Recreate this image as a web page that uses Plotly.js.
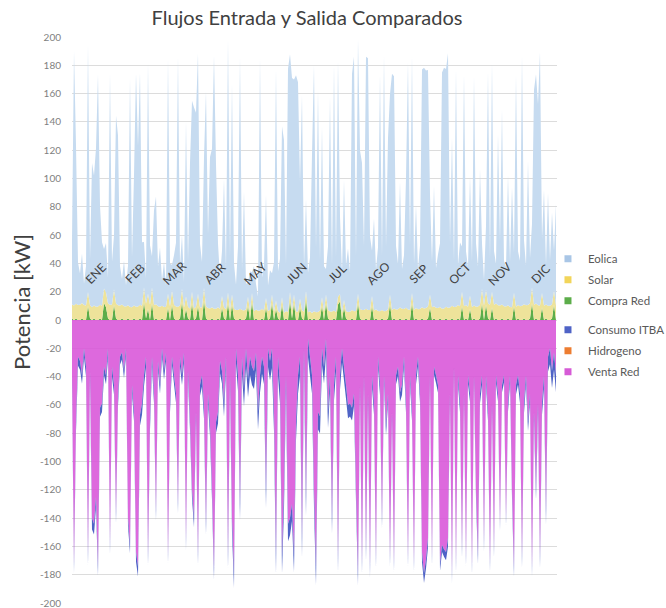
<!DOCTYPE html>
<html>
<head>
<meta charset="utf-8">
<script src="https://cdn.plot.ly/plotly-3.0.1.min.js"></script>
<style>html,body{margin:0;padding:0;background:#fff;}#chart{width:666px;height:608px;}</style>
</head>
<body>
<div id="chart"></div>
<script>
// ---- Data (one sample every 1.5 days) ----
const sampleStepDays = 1.5;      // main series
const coarseStepDays = 7.5;      // slowly varying series

const months = ['ENE','FEB','MAR','ABR','MAY','JUN','JUL','AGO','SEP','OCT','NOV','DIC'];
const monthDays = [31,28,31,30,31,30,31,31,30,31,30,31];

const yTickValues = [200,180,160,140,120,100,80,60,40,20,0,-20,-40,-60,-80,-100,-120,-140,-160,-180,-200];
const yTickLabels = ['200','180','160','140','120','100','80','60','40','20','0','-20','-40','-60','-80','-100','-120','-140','-160','-180','-200'];

const eolica = [
 45,180,112,30,22,35,15,28,175,32,
 102,92,112,164,70,45,28,35,18,164,
 30,38,133,120,28,18,32,15,28,162,
 35,92,165,113,164,45,32,18,163,42,
 22,67,76,28,42,18,32,15,166,30,
 18,35,45,177,28,38,18,124,32,103,
 135,142,137,170,45,32,92,152,52,107,
 112,179,102,45,22,32,91,28,179,38,
 149,32,18,45,178,28,84,18,10,28,
 15,32,18,10,179,22,32,73,18,28,
 15,35,164,28,38,121,122,32,172,168,
 164,152,167,162,82,152,32,65,28,38,
 112,174,45,157,35,121,32,18,45,152,
 32,174,38,167,55,28,85,32,45,28,
 167,180,38,180,112,104,45,178,178,52,
 32,65,28,45,168,38,181,45,121,142,
 167,164,45,32,89,28,38,92,175,45,
 168,32,73,28,45,168,170,168,167,71,
 32,85,28,38,45,167,170,168,180,45,
 119,32,168,28,45,32,164,38,28,85,
 32,162,45,28,96,32,18,45,164,32,
 162,38,28,121,45,138,32,28,92,32,
 85,28,164,38,32,177,45,28,102,32,
 45,152,162,142,179,38,82,28,80,32,
 65,28,72
];

const compraRed = [
 1,0,1,0,0,1,0,0,10,1,
 0,1,0,0,1,0,12,9,1,0,
 0,11,1,0,0,1,0,0,1,0,
 0,1,0,0,1,0,13,1,8,0,
 12,0,1,0,0,1,0,0,9,0,
 11,1,0,0,1,13,0,8,1,0,
 12,0,1,10,0,0,14,1,0,0,
 1,0,0,1,0,9,1,0,12,0,
 11,1,0,0,1,0,0,1,10,0,
 13,0,1,0,0,1,0,9,0,1,
 12,0,8,1,0,11,0,1,0,14,
 1,12,0,0,9,1,0,15,0,1,
 0,1,0,0,1,10,0,12,1,0,
 0,1,0,11,13,0,9,1,0,0,
 1,0,0,12,1,0,0,1,0,0,
 10,0,1,0,0,1,0,0,1,11,
 0,1,0,0,1,0,0,1,0,0,
 12,0,1,0,0,1,0,0,1,9,
 0,1,0,0,1,0,0,1,0,0,
 1,0,0,1,0,10,0,1,0,8,
 0,1,0,0,1,12,0,11,1,0,
 9,0,1,0,0,1,0,0,1,0,
 0,10,0,1,0,0,1,0,0,1,
 12,0,1,0,0,9,0,1,0,0,
 1,11,0
];

const solar = [
 10,11,9,10,11,10,9,10,11,9,
 10,9,8,9,8,8,7,7,6,7,
 6,5,6,6,5,6,6,5,6,7,
 7,6,7,8,7,8,9,8,9,10,
 9,10,11,10,9,10,11,10,10
];

const ventaRed = [
 -39,-172,-72,-26,-29,-39,-20,-33,-166,-36,
 -140,-144,-125,-174,-62,-59,-33,-39,-20,-159,
 -33,-46,-137,-55,-26,-23,-36,-20,-140,-159,
 -46,-65,-164,-174,-67,-59,-39,-26,-166,-70,
 -26,-52,-135,-29,-46,-20,-36,-23,-166,-59,
 -26,-39,-52,-130,-26,-39,-23,-156,-36,-72,
 -120,-140,-65,-166,-46,-39,-62,-144,-52,-75,
 -120,-176,-72,-65,-29,-36,-59,-26,-166,-39,
 -140,-179,-20,-39,-130,-26,-49,-20,-42,-26,
 -33,-36,-23,-65,-39,-26,-33,-120,-20,-29,
 -20,-65,-166,-26,-46,-166,-120,-39,-144,-140,
 -130,-166,-72,-39,-26,-154,-20,-125,-13,-26,
 -39,-120,-175,-65,-68,-20,-33,-13,-65,-39,
 -140,-46,-26,-168,-39,-20,-33,-46,-60,-59,
 -62,-52,-120,-179,-46,-172,-39,-162,-52,-174,
 -39,-59,-168,-26,-46,-140,-39,-75,-52,-168,
 -65,-172,-39,-33,-51,-46,-26,-59,-168,-39,
 -65,-172,-39,-26,-52,-164,-179,-169,-154,-39,
 -168,-33,-39,-46,-172,-159,-162,-164,-154,-52,
 -179,-33,-172,-39,-59,-162,-52,-168,-39,-52,
 -174,-39,-120,-166,-52,-39,-157,-39,-65,-172,
 -59,-162,-39,-52,-144,-46,-39,-140,-59,-39,
 -120,-175,-46,-39,-52,-168,-59,-39,-72,-52,
 -175,-65,-120,-59,-168,-59,-39,-135,-26,-20,
 -36,-23,-39
];

const hidrogeno = [
 0,0,0,0,0,0,0,0,0,0,
 0,0,0,0,0,0,0,0,0,0,
 0,0,0,0,0,0,0,0,0,0,
 0,0,0,0,0,0,0,0,0,0,
 0,0,0,0,0,0,0,0,0
];

const consumoITBA = [
 -7,-6,-8,-6,-7,-5,-6,-8,-7,-6,
 -6,-7,-6,-8,-7,-9,-10,-12,-13,-12,
 -14,-13,-12,-14,-13,-12,-11,-10,-9,-8,
 -8,-7,-6,-7,-6,-7,-6,-5,-7,-6,
 -6,-7,-6,-5,-6,-7,-6,-8,-12
];

// ---- time axes (days from 1 January) ----
const xMain = eolica.map((_, i) => i * sampleStepDays);
const xCoarse = solar.map((_, i) => i * coarseStepDays);

// ---- styles ----
const FONT = 'Lato, "Open Sans", sans-serif';
const col = {
  eolica: '#c6dbf0', eolicaKey: '#a9c6e6',
  solar: '#eee39a', solarKey: '#f2d55a',
  compra: '#5cad4a',
  consumo: '#4f63c6',
  hidro: '#ed7d31',
  venta: 'rgba(216,84,216,0.88)', ventaKey: '#d65bd6'
};

function area(name, x, y, group, fill) {
  return {
    type: 'scatter', mode: 'none', name: name, x: x, y: y,
    stackgroup: group, stackgaps: 'interpolate', fillcolor: fill,
    line: {width: 0, shape: 'linear'}, showlegend: false, hoverinfo: 'skip'
  };
}
function key(name, color, legendId) {
  return {
    type: 'scatter', mode: 'markers', name: name, x: [null], y: [null],
    marker: {symbol: 'square', size: 7, color: color},
    legend: legendId, legendgroup: name, showlegend: true, hoverinfo: 'skip'
  };
}

const traces = [
  area('Compra Red', xMain, compraRed, 'pos', col.compra),
  area('Solar', xCoarse, solar, 'pos', col.solar),
  area('Eolica', xMain, eolica, 'pos', col.eolica),
  area('Venta Red', xMain, ventaRed, 'neg', col.venta),
  area('Hidrogeno', xCoarse, hidrogeno, 'neg', col.hidro),
  area('Consumo ITBA', xCoarse, consumoITBA, 'neg', col.consumo),
  key('Eolica', col.eolicaKey, 'legend'),
  key('Solar', col.solarKey, 'legend'),
  key('Compra Red', col.compra, 'legend'),
  key('Consumo ITBA', col.consumo, 'legend2'),
  key('Hidrogeno', col.hidro, 'legend2'),
  key('Venta Red', col.ventaKey, 'legend2')
];

// month labels
const annotations = [];
let start = 0;
months.forEach((m, k) => {
  annotations.push({
    x: start + monthDays[k] / 2 + 2, y: 33, xref: 'x', yref: 'y',
    text: m, showarrow: false, textangle: -45,
    font: {size: 12, color: '#404040', family: FONT}
  });
  start += monthDays[k];
});
// y-axis title
annotations.push({
  x: -0.103, y: 0.532, xref: 'paper', yref: 'paper',
  text: 'Potencia [kW]', showarrow: false, textangle: -90,
  xanchor: 'center', yanchor: 'middle',
  font: {size: 22, color: '#404040', family: FONT}
});

const legendCommon = {
  xanchor: 'left', yanchor: 'top', x: 0.9814,
  font: {size: 11.5, color: '#595959', family: FONT},
  traceorder: 'grouped', tracegroupgap: 2, bgcolor: 'rgba(0,0,0,0)'
};

const layout = {
  width: 666, height: 608,
  margin: {l: 72, r: 109, t: 37, b: 5, autoexpand: false},
  paper_bgcolor: '#ffffff', plot_bgcolor: '#ffffff',
  font: {family: FONT, color: '#595959'},
  title: {
    text: 'Flujos Entrada y Salida Comparados',
    font: {size: 20, color: '#404040'},
    x: 0.461, xanchor: 'center', xref: 'container',
    y: 0.97, yanchor: 'middle', yref: 'container'
  },
  xaxis: {range: [0, 363.75], showgrid: false, zeroline: false, showticklabels: false, showline: false, ticks: '', fixedrange: true},
  yaxis: {
    range: [-200, 200], tickvals: yTickValues, ticktext: yTickLabels,
    gridcolor: '#dcdcdc', gridwidth: 1, zeroline: false, showline: false, ticks: '',
    tickfont: {size: 10, color: '#7f7f7f'}, ticklabelstandoff: 10, ticklabeloverflow: 'allow'
  },
  showlegend: true,
  legend: Object.assign({}, legendCommon, {y: 0.634}),
  legend2: Object.assign({}, legendCommon, {y: 0.5085}),
  annotations: annotations
};

Plotly.newPlot('chart', traces, layout, {staticPlot: true, displayModeBar: false});
</script>
</body>
</html>
